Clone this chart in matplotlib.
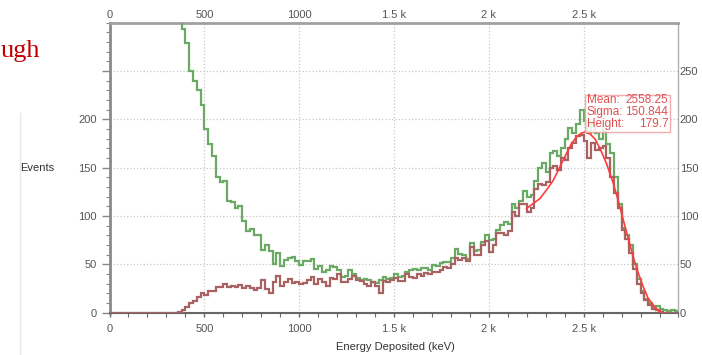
import numpy as np
import matplotlib
matplotlib.use('Agg')
import matplotlib.pyplot as plt
from matplotlib.ticker import MultipleLocator
from matplotlib.patches import Rectangle
from matplotlib.lines import Line2D

plt.rcParams['font.family'] = ['Liberation Sans', 'DejaVu Sans']

# 20 keV bins, 0 - 3000 keV
bin_edges = np.arange(0, 3001, 20)

# all events (green); below ~380 keV the counts run off the top of the plot
all_events = [
    320, 320, 320, 320, 320,   # 0-80
    320, 320, 320, 320, 320,   # 100-180
    320, 320, 320, 320, 320,   # 200-280
    320, 320, 320, 320, 294,   # 300-380
    279, 250, 240, 230, 215,   # 400-480
    190, 175, 162, 140, 135,   # 500-580
    136, 116, 115, 108, 110,   # 600-680
    95, 85, 87, 80, 80,        # 700-780
    65, 70, 64, 50, 62,        # 800-880
    48, 55, 57, 58, 54,        # 900-980
    49, 54, 54, 56, 45,        # 1000-1080
    48, 42, 44, 48, 47,        # 1100-1180
    44, 37, 38, 44, 40,        # 1200-1280
    36, 34, 35, 34, 32,        # 1300-1380
    31, 34, 37, 35, 36,        # 1400-1480
    40, 37, 38, 42, 44,        # 1500-1580
    45, 44, 46, 46, 44,        # 1600-1680
    49, 48, 51, 52, 53,        # 1700-1780
    57, 66, 61, 60, 56,        # 1800-1880
    72, 64, 65, 73, 80,        # 1900-1980
    75, 76, 86, 91, 94,        # 2000-2080
    92, 112, 108, 116, 126,    # 2100-2180
    120, 122, 136, 150, 155,   # 2200-2280
    146, 165, 167, 162, 170,   # 2300-2380
    180, 191, 186, 195, 210,   # 2400-2480
    198, 186, 195, 186, 180,   # 2500-2580
    192, 175, 165, 140, 113,   # 2600-2680
    88, 80, 70, 50, 35,        # 2700-2780
    22, 14, 10, 6, 7,          # 2800-2880
    4, 3, 2, 3, 2,             # 2900-2980
]

# selected events (brown)
selected_events = [
    0, 0, 0, 0, 0,
    0, 0, 0, 0, 0,
    0, 0, 0, 0, 0,
    0, 0, 0, 1, 3,
    6, 10, 12, 16, 20,
    18, 22, 23, 27, 27,
    30, 27, 28, 27, 29,
    26, 28, 26, 24, 26,
    34, 25, 20, 32, 38,
    28, 32, 35, 31, 32,
    30, 31, 34, 37, 30,
    35, 32, 28, 36, 35,
    40, 32, 32, 35, 38,
    34, 33, 30, 28, 32,
    28, 20, 33, 32, 34,
    36, 33, 33, 40, 37,
    36, 40, 38, 41, 40,
    42, 42, 44, 47, 46,
    50, 57, 55, 57, 54,
    68, 60, 60, 70, 74,
    63, 70, 82, 82, 80,
    85, 104, 100, 112, 112,
    104, 108, 128, 133, 132,
    135, 150, 152, 148, 160,
    158, 170, 176, 183, 184,
    178, 160, 176, 168, 170,
    172, 160, 140, 124, 108,
    86, 76, 62, 45, 30,
    20, 13, 8, 4, 3,
    1, 0, 0, 0, 0,
]

# fitted peak curve
fit_energy = [2199, 2234, 2269, 2304, 2340, 2375, 2410, 2436, 2463, 2489,
              2512, 2533, 2559, 2586, 2621, 2656, 2682, 2709, 2735, 2761,
              2788, 2814, 2840, 2867, 2893, 2911]
fit_counts = [108, 113, 118, 127, 137, 151, 165, 175, 182, 186,
              187, 185, 180, 170, 154, 134, 116, 96, 77, 58,
              41, 27, 15, 8, 2, 0]

fit_mean = 2558.25
fit_sigma = 150.844
fit_height = 179.7

x_ticks = [0, 500, 1000, 1500, 2000, 2500]
x_tick_labels = ['0', '500', '1000', '1.5 k', '2 k', '2.5 k']
y_ticks = [0, 50, 100, 150, 200, 250]
y_left_labels = ['0', '50', '100', '150', '200', '']
y_right_labels = ['0', '50', '100', '150', '200', '250']

label_col = '#555555'

fig = plt.figure(figsize=(7.02, 3.55), dpi=100)
ax = fig.add_axes([0.156, 0.119, 0.8105, 0.817])

ax.stairs(all_events, bin_edges, color='#6aaa64', lw=1.6, baseline=None, zorder=3)
ax.stairs(selected_events, bin_edges, color='#a86262', lw=1.6, baseline=None, zorder=4)
ax.plot(fit_energy, fit_counts, color='#ff3b3b', lw=1.2, zorder=5)

ax.set_xlim(0, 3000)
ax.set_ylim(0, 300)
ax.set_xticks(x_ticks)
ax.set_xticklabels(x_tick_labels)
ax.set_yticks(y_ticks)
ax.set_yticklabels(y_left_labels)
ax.xaxis.set_minor_locator(MultipleLocator(100))
ax.yaxis.set_minor_locator(MultipleLocator(10))
ax.grid(True, which='major', ls=':', color='#c8c8c8', lw=0.9, zorder=0)

ax.tick_params(axis='y', which='major', length=6, width=1, color='#888888',
               labelsize=8, labelcolor=label_col, pad=3)
ax.tick_params(axis='y', which='minor', length=3, width=0.8, color='#888888')
ax.tick_params(axis='x', which='major', length=3, width=1, color='#666666',
               labelsize=8, labelcolor=label_col, pad=5)
ax.tick_params(axis='x', which='minor', length=3, width=0.8, color='#666666')

ax.spines['left'].set_color('#8a8a8a')
ax.spines['left'].set_linewidth(2)
ax.spines['top'].set_color('#a0a0a0')
ax.spines['top'].set_linewidth(2)
ax.spines['right'].set_color('#b0b0b0')
ax.spines['right'].set_linewidth(1)
ax.spines['bottom'].set_color('#666666')
ax.spines['bottom'].set_linewidth(1.5)

# right and top labels
ax_r = ax.twinx()
ax_r.set_ylim(0, 300)
ax_r.set_yticks(y_ticks)
ax_r.set_yticklabels(y_right_labels)
ax_r.tick_params(axis='y', length=0, labelsize=8, labelcolor=label_col, pad=1)
ax_t = ax.twiny()
ax_t.set_xlim(0, 3000)
ax_t.set_xticks(x_ticks)
ax_t.set_xticklabels(x_tick_labels)
ax_t.tick_params(axis='x', length=0, labelsize=8, labelcolor=label_col, pad=2)
for a in (ax_r, ax_t):
    for s in a.spines.values():
        s.set_visible(False)

# fit statistics box
box = Rectangle((0.8357, 0.623), 0.1493, 0.1277, transform=ax.transAxes,
                facecolor='white', alpha=0.85, edgecolor='#f0a0a0', lw=1, zorder=6)
ax.add_patch(box)
stats = [('Mean:', f'{fit_mean:.2f}'), ('Sigma:', f'{fit_sigma:.3f}'),
         ('Height:', f'{fit_height:.1f}')]
for i, (name, val) in enumerate(stats):
    yy = 0.735 - i * 0.042
    ax.text(0.839, yy, name, transform=ax.transAxes, ha='left', va='center',
            fontsize=8.5, color='#e05050', zorder=7)
    ax.text(0.982, yy, val, transform=ax.transAxes, ha='right', va='center',
            fontsize=8.5, color='#e05050', zorder=7)

fig.text(37 / 702, 1 - 168 / 355, 'Events', ha='center', va='center',
         fontsize=8, color='#333333')
fig.text(395 / 702, 1 - 347 / 355, 'Energy Deposited (keV)', ha='center',
         va='center', fontsize=8, color='#333333')

# leftover of the slide behind the chart
fig.text(1 / 702, 1 - 57 / 355, 'ugh', ha='left', va='baseline',
         family=['Liberation Serif', 'DejaVu Serif'], fontsize=19, color='#c00000')
fig.add_artist(Line2D([20 / 702, 20 / 702], [0, 1 - 113 / 355],
                      transform=fig.transFigure, color='#e8e8e8', lw=1))

fig.savefig('out.png', dpi=100)
